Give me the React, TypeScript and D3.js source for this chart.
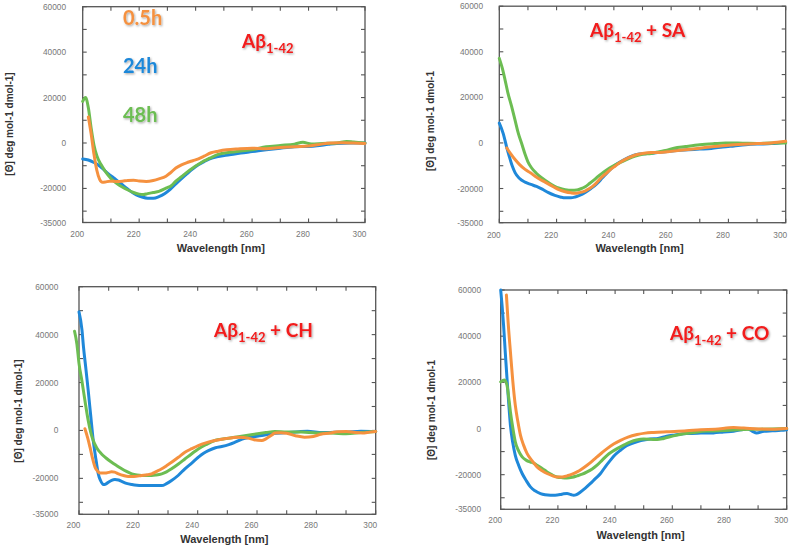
import React from "react";
import * as d3 from "d3";

type Pt = [number, number];

// ---------- data (wavelength nm, ellipticity) ----------
const xTickValues = [200, 210, 220, 230, 240, 250, 260, 270, 280, 290, 300];
const xTickLabels = [200, 220, 240, 260, 280, 300];
const yTickValues = [-35000, -30000, -20000, -10000, 0, 10000, 20000, 30000, 40000, 50000, 60000];
const yTickLabels = [-35000, -20000, 0, 20000, 40000, 60000];
const legendLabels = ["0.5h", "24h", "48h"];
const panelTitles = ["", " + SA", " + CH", " + CO"];

const p1Orange: Pt[] = [[202,11500],[203,4000],[204,-5000],[205,-12000],[206,-16000],[207,-17300],[208,-17200],[209.5,-16800],[212,-16900],[214,-16800],[216,-16500],[218,-16400],[220,-16700],[222.5,-16900],[225,-16500],[227,-15800],[229.5,-14600],[231,-13200],[233,-11000],[235,-9600],[237,-8600],[239,-7800],[241,-7000],[243,-5800],[245.5,-4300],[248,-3600],[251,-3000],[255,-2600],[260,-2300],[265,-2500],[270,-2000],[275,-1600],[280,-1300],[283,-800],[288,0],[292,100],[296,0],[300,-200]];
const p1Blue: Pt[] = [[200,-7000],[202,-7500],[204,-8600],[205.5,-9700],[207,-11200],[209,-13500],[211,-15400],[213,-17300],[215,-19300],[217,-21300],[219,-22800],[221,-23800],[223,-24300],[225,-24300],[227,-23600],[229,-22300],[231,-20400],[233,-18000],[235,-15700],[237,-13500],[239,-11400],[241,-9600],[243,-8200],[245,-7000],[248,-6000],[252,-5200],[256,-4400],[260,-3800],[265,-3000],[270,-2300],[275,-1700],[280,-1500],[283,-1200],[287,-600],[290,-200],[295,0],[300,0]];
const p1Green: Pt[] = [[200,18300],[201,20000],[202,15500],[203,6500],[204,-1000],[205,-5600],[206.5,-9500],[208,-12500],[210,-15600],[212,-17800],[214,-19400],[216,-20700],[218,-21800],[220,-22500],[221.5,-22700],[223,-22300],[225,-21800],[227,-21300],[229.5,-19900],[231.5,-18700],[233,-16800],[235,-14800],[237,-12800],[239,-11000],[241,-9400],[243,-7900],[245,-6700],[248,-5000],[252,-4100],[256,-3500],[260,-3000],[265,-1700],[270,-1100],[275,-500],[278,300],[281,-400],[285,-200],[290,0],[293.5,700],[296,400],[300,0]];

const p2Orange: Pt[] = [[202.6,-2200],[204,-4800],[205.5,-7300],[207,-9400],[209,-11600],[211,-13200],[212.5,-14600],[214,-15800],[216,-17200],[218,-18600],[219.4,-19600],[221,-20600],[223,-21400],[225,-21900],[226.5,-22100],[228,-21800],[229.9,-21100],[231.5,-20000],[233.4,-18200],[235,-16000],[236.9,-13800],[238.5,-12000],[240.4,-10200],[242.5,-8300],[245,-6600],[247.5,-5300],[250,-4600],[253,-4200],[256,-4200],[260,-3700],[265,-3000],[270,-2300],[275,-1600],[280,-1000],[285,-600],[290,-300],[295,0],[300,700]];
const p2Blue: Pt[] = [[200,8700],[201.4,4000],[202.5,-1500],[203.5,-6000],[204.5,-10000],[205.5,-13000],[207,-15500],[209,-17200],[211,-18200],[213,-19100],[215,-20300],[217,-21700],[219.4,-23000],[221.5,-23800],[223,-24100],[225,-24100],[226.5,-23700],[228,-23000],[230,-21700],[232,-20000],[234,-18000],[236,-15300],[238,-12600],[240,-10200],[242,-8500],[244,-7100],[246,-5900],[248,-5100],[251,-4700],[254,-4400],[258,-3900],[262,-3300],[266,-3000],[270,-2700],[274,-2400],[278,-1800],[282,-1300],[286,-800],[290,-500],[295,-300],[300,300]];
const p2Green: Pt[] = [[200,37100],[201,33000],[202,27700],[203,22000],[204.3,16000],[205.5,10000],[206.6,4400],[208,-1000],[209,-5000],[210,-8300],[211.3,-11000],[213,-13400],[215,-15500],[217,-17300],[219,-18800],[221,-19900],[223,-20500],[225.3,-20800],[227,-20700],[228.5,-20100],[230,-19200],[231.5,-17800],[233,-16300],[234.6,-14600],[236.5,-12700],[238.5,-11000],[240.5,-9600],[242.7,-8300],[245,-7000],[247.5,-5800],[250,-5000],[253,-4600],[256,-3800],[258,-3300],[261,-2300],[265,-1600],[270,-800],[275,-300],[279,0],[285,-100],[290,-200],[295,0],[300,0]];

const p3Orange: Pt[] = [[202,700],[202.9,-3000],[203.7,-7000],[204.5,-11300],[205.4,-15300],[206.3,-17000],[207.1,-17800],[208.8,-17800],[210,-17500],[211,-17200],[212,-17400],[213.3,-18100],[215,-18800],[216.6,-19200],[218.5,-19200],[221.1,-18800],[223,-18500],[224.5,-18100],[226,-17200],[227.9,-16000],[229.5,-14700],[231.2,-13300],[233.5,-11200],[235.7,-9100],[238,-7600],[240.2,-6300],[243,-5100],[245.8,-4200],[249,-3500],[253.7,-2800],[257,-3200],[259,-3900],[261.6,-4200],[263,-3500],[265,-1900],[266,-1100],[268,-1000],[270,-1200],[273,-2200],[276,-2800],[279,-2500],[281.5,-1600],[284.6,-1100],[287,-500],[290.2,-400],[293,-900],[295.5,-1100],[298,-700],[300,-400]];
const p3Blue: Pt[] = [[200,49500],[201,42000],[201.5,35000],[202.3,26000],[203.1,16700],[204,5500],[204.8,-4200],[205.7,-12000],[206.5,-18100],[207.3,-21000],[208.2,-22600],[209,-22400],[209.9,-21600],[211,-20800],[212.1,-20500],[213.3,-20700],[214.4,-21300],[216,-22100],[217.8,-22600],[219.5,-22900],[221.1,-23000],[223,-23000],[225.6,-23000],[227.9,-23000],[229.5,-22200],[231.2,-20900],[233.5,-18700],[235.7,-16000],[238,-13600],[240.2,-11200],[242,-9500],[243.6,-8400],[246,-7200],[248.1,-6700],[250.5,-5900],[252.6,-4900],[255,-3600],[258,-2800],[261.6,-2100],[265,-1300],[270,-900],[274,-500],[277,-300],[282,-900],[286,-800],[290,-700],[295,-300],[300,-400]];
const p3Green: Pt[] = [[198.5,41400],[199.3,36000],[200,28000],[201,20500],[202,12500],[203.1,4200],[204,-1000],[204.8,-4200],[206,-7300],[207.6,-9800],[209,-11400],[211,-13300],[213,-14900],[214.4,-16000],[216,-17100],[217.8,-18100],[219.5,-18600],[221.1,-18800],[224.5,-18800],[226,-18600],[227.9,-18100],[229.5,-17300],[231.2,-16000],[233.5,-14000],[235.7,-11900],[238,-9700],[240.2,-7700],[243,-5800],[245.8,-4200],[249,-3500],[253.7,-2600],[258,-1800],[263,-900],[266,-400],[270,-700],[275,-700],[280,-1100],[285,-1100],[290,-1400],[295,-900],[300,-400]];

const p4Orange: Pt[] = [[202,57800],[202.6,46000],[203.4,33200],[204.2,21000],[205.1,10100],[206,3000],[206.9,-2900],[208,-7200],[209.2,-10800],[211,-14000],[212.7,-16600],[214.5,-18300],[216.2,-19500],[218,-20400],[219.7,-21000],[221.5,-21000],[223.2,-20500],[225,-19800],[226.7,-18800],[228.5,-17400],[230.2,-15900],[232,-14100],[233.7,-12300],[235.5,-10400],[237.2,-8700],[239.5,-6700],[241.9,-5100],[244.5,-3700],[247.7,-2600],[250.5,-2000],[253.5,-1700],[258,-1400],[265,-1000],[270,-500],[275,-300],[281.4,400],[285,200],[290,-200],[295,-300],[300,0]];
const p4Blue: Pt[] = [[200,60000],[200.5,53000],[201,44800],[201.6,33000],[202.2,21700],[202.8,11000],[203.4,1400],[204.2,-6000],[205.1,-11600],[206.3,-16000],[207.5,-19500],[209,-22700],[210.4,-25300],[212,-27000],[213.9,-28200],[215.5,-28700],[217.4,-28900],[219,-28900],[220.9,-28600],[222,-28300],[223.2,-28200],[224.5,-28600],[225.5,-28900],[226.5,-28600],[227.9,-27500],[229.5,-25900],[231.4,-23800],[233,-21800],[234.9,-19500],[236.5,-16700],[238.4,-13700],[240,-11400],[241.9,-9400],[244,-7500],[246.5,-6200],[249,-5200],[252.3,-4500],[255,-4300],[258,-3300],[261,-2800],[265,-2200],[270,-2000],[274.4,-1900],[278,-1500],[281.4,-1200],[284,-600],[286,0],[288,-1200],[289.5,-1900],[292,-1200],[295,-1000],[298,-800],[300,-500]];
const p4Green: Pt[] = [[200,20200],[201.3,21000],[202.2,18800],[202.8,13500],[203.4,7200],[204.2,500],[205.1,-5800],[206.3,-9800],[207.5,-12300],[209,-13800],[210.4,-14500],[211.5,-15000],[212.7,-15900],[214.5,-17300],[216.2,-18800],[218,-20100],[219.7,-21000],[221.5,-21300],[223.2,-21400],[225,-21100],[226.7,-20500],[228.5,-19800],[230.2,-18800],[232,-17500],[233.7,-15900],[235.5,-13700],[237.2,-11600],[239,-10000],[240.7,-8700],[243,-7200],[245.4,-5800],[247.5,-5000],[250,-4600],[252.5,-4700],[254.7,-4800],[257,-4300],[260.4,-3200],[264,-2300],[267.4,-1700],[272,-1100],[276,-1000],[281.4,-700],[285,-400],[290.7,-300],[295,-200],[300,0]];

// ---------- styles ----------
const ORANGE = "#f5913f";
const BLUE = "#1f88d9";
const GREEN = "#6cbd52";
const RED = "#f21c1c";
const AXIS = "#555";

type Cfg = {
  left: number; right: number; top: number; bottom: number;
  yTickRight: number; xTickBase: number; xTitleBase: number;
  yLabX: number; yLabY: number; yLabText: string;
  titleX: number; titleY: number;
};

const cfgs: Cfg[] = [
  { left: 82.7, right: 365, top: 6.7, bottom: 222.5, yTickRight: 66, xTickBase: 236.5, xTitleBase: 252, yLabX: 9, yLabY: 124, yLabText: "[Θ] deg mol-1 dmol-1]", titleX: 242, titleY: 48 },
  { left: 499.3, right: 785.7, top: 6.2, bottom: 222.7, yTickRight: 483, xTickBase: 238, xTitleBase: 252, yLabX: 430, yLabY: 121, yLabText: "[Θ] deg mol-1 dmol-1", titleX: 590, titleY: 37 },
  { left: 79, right: 375.7, top: 286.7, bottom: 514.3, yTickRight: 58.3, xTickBase: 527.5, xTitleBase: 543, yLabX: 18, yLabY: 411, yLabText: "[Θ] deg mol-1 dmol-1]", titleX: 214, titleY: 337 },
  { left: 500.7, right: 786.7, top: 290, bottom: 509.3, yTickRight: 481, xTickBase: 523, xTitleBase: 539, yLabX: 431, yLabY: 410, yLabText: "[Θ] deg mol-1 dmol-1", titleX: 670, titleY: 340 },
];

const panelSeries: { blue: Pt[]; green: Pt[]; orange: Pt[] }[] = [
  { blue: p1Blue, green: p1Green, orange: p1Orange },
  { blue: p2Blue, green: p2Green, orange: p2Orange },
  { blue: p3Blue, green: p3Green, orange: p3Orange },
  { blue: p4Blue, green: p4Green, orange: p4Orange },
];

function Panel({ cfg, s, idx }: { cfg: Cfg; s: { blue: Pt[]; green: Pt[]; orange: Pt[] }; idx: number }) {
  const x = d3.scaleLinear().domain([200, 300]).range([cfg.left, cfg.right]);
  const y = d3.scaleLinear().domain([-35000, 60000]).range([cfg.bottom, cfg.top]);
  const line = d3.line<Pt>().x((d) => x(d[0])).y((d) => y(d[1])).curve(d3.curveMonotoneX);
  const tl = 4;
  const tickFont = { fontFamily: "'Liberation Sans', Arial, sans-serif", fontSize: 8.3, fill: "#777" };
  return (
    <g>
      {/* frame */}
      <rect x={cfg.left} y={cfg.top} width={cfg.right - cfg.left} height={cfg.bottom - cfg.top} fill="none" stroke={AXIS} strokeWidth={1.3} />
      {xTickValues.map((v) => (
        <g key={"x" + v}>
          <line x1={x(v)} x2={x(v)} y1={cfg.bottom} y2={cfg.bottom - tl} stroke={AXIS} strokeWidth={1.1} />
          <line x1={x(v)} x2={x(v)} y1={cfg.top} y2={cfg.top + tl} stroke={AXIS} strokeWidth={1.1} />
        </g>
      ))}
      {yTickValues.map((v) => (
        <g key={"y" + v}>
          <line x1={cfg.left} x2={cfg.left + tl} y1={y(v)} y2={y(v)} stroke={AXIS} strokeWidth={1.1} />
          <line x1={cfg.right} x2={cfg.right - tl} y1={y(v)} y2={y(v)} stroke={AXIS} strokeWidth={1.1} />
        </g>
      ))}
      {xTickLabels.map((v) => (
        <text key={"xl" + v} x={x(v) - 5.5} y={cfg.xTickBase} textAnchor="middle" {...tickFont}>{v}</text>
      ))}
      {yTickLabels.map((v) => (
        <text key={"yl" + v} x={cfg.yTickRight} y={y(v) + 3} textAnchor="end" {...tickFont}>{v}</text>
      ))}
      <text x={(cfg.left + cfg.right) / 2 - 3} y={cfg.xTitleBase} textAnchor="middle" fontFamily="'Liberation Sans', Arial, sans-serif" fontWeight={700} fontSize={11} fill="#333">Wavelength [nm]</text>
      <text transform={`translate(${cfg.yLabX},${cfg.yLabY}) rotate(-90)`} textAnchor="middle" dy={3.5} fontFamily="'Liberation Sans', Arial, sans-serif" fontWeight={700} fontSize={10} fill="#333">{cfg.yLabText}</text>
      {/* curves */}
      <path d={line(s.blue) || ""} fill="none" stroke={BLUE} strokeWidth={3} strokeLinejoin="round" strokeLinecap="round" />
      <path d={line(s.green) || ""} fill="none" stroke={GREEN} strokeWidth={3} strokeLinejoin="round" strokeLinecap="round" />
      <path d={line(s.orange) || ""} fill="none" stroke={ORANGE} strokeWidth={3} strokeLinejoin="round" strokeLinecap="round" />
      {/* title */}
      <text x={cfg.titleX} y={cfg.titleY} fill={RED} fontFamily="Lato, 'Open Sans', sans-serif" fontWeight={700} fontSize={19} filter="url(#shadow)">
        Aβ<tspan fontSize={13} dy={5}>1-42</tspan>
        {panelTitles[idx] ? <tspan fontSize={19} dy={-5}>{panelTitles[idx]}</tspan> : null}
      </text>
    </g>
  );
}

export default function App() {
  const legendColors = [ORANGE, BLUE, GREEN];
  const legendY = [25, 73, 122];
  return (
    <svg width={790} height={548} style={{ display: "block", position: "absolute", left: 0, top: 0, background: "#fff" }}>
      <defs>
        <filter id="shadow" x="-10%" y="-20%" width="130%" height="160%">
          <feDropShadow dx={1} dy={1.2} stdDeviation={0.9} floodColor="#000" floodOpacity={0.35} />
        </filter>
      </defs>
      <rect width={790} height={548} fill="#fff" />
      {cfgs.map((c, i) => (
        <Panel key={i} cfg={c} s={panelSeries[i]} idx={i} />
      ))}
      {legendLabels.map((t, i) => (
        <text key={t} x={123} y={legendY[i]} fill={legendColors[i]} fontFamily="Lato, 'Open Sans', sans-serif" fontWeight={700} fontSize={20} filter="url(#shadow)">{t}</text>
      ))}
    </svg>
  );
}
